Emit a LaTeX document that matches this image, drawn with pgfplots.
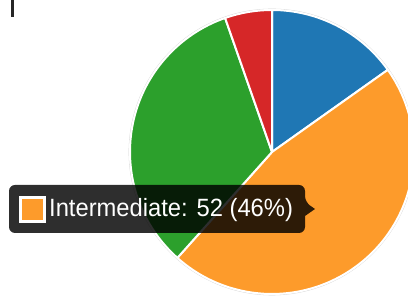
\documentclass[border=0pt]{standalone}
\usepackage{pgfplots}
\pgfplotsset{compat=1.18}
\usepackage{pgfplotstable}
\usepackage{fontspec}
\setmainfont{Liberation Sans}
\definecolor{cblue}{HTML}{1F77B4}
\definecolor{corange}{HTML}{FD9B2B}
\definecolor{cgreen}{HTML}{2CA02C}
\definecolor{cred}{HTML}{D62728}
\pgfplotstableread{
label value
Beginner 17
Intermediate 52
Advanced 37
Expert 6
}\piedata
\begin{document}%
\gdef\pietotal{0}%
\pgfplotstableforeachcolumnelement{value}\of\piedata\as\v{%
  \pgfmathsetmacro\tmp{\pietotal+\v}\xdef\pietotal{\tmp}}%
\gdef\cum{0}%
\pgfplotstableforeachcolumnelement{value}\of\piedata\as\v{%
  \pgfmathsetmacro\s{90-360*(\cum/\pietotal)}%
  \pgfmathsetmacro\tmp{\cum+\v}\xdef\cum{\tmp}%
  \pgfmathsetmacro\e{90-360*(\cum/\pietotal)}%
  \expandafter\xdef\csname pieS\pgfplotstablerow\endcsname{\s}%
  \expandafter\xdef\csname pieE\pgfplotstablerow\endcsname{\e}%
}%
\newcommand\slice[2]{%
  \fill[#2, draw=white, line width=2pt, line join=round] (axis cs:272,144) -- ++(\csname pieS#1\endcsname:142pt)
    arc[start angle=\csname pieS#1\endcsname, end angle=\csname pieE#1\endcsname, radius=142pt] -- cycle;}%
\begin{tikzpicture}
\path[use as bounding box] (0,0) rectangle (408pt,296pt);
\begin{axis}[
  at={(0,0)}, anchor=south west,
  scale only axis, width=408pt, height=296pt,
  xmin=0, xmax=408, ymin=0, ymax=296,
  hide axis, clip=true,
]
\addplot[draw=none] coordinates {(0,0) (408,296)};
\draw[gray!35, line width=0.6pt] (axis cs:272,144) circle[radius=143pt];
\slice{0}{cblue}
\slice{1}{corange}
\slice{2}{cgreen}
\slice{3}{cred}
\fill[black!85] (axis cs:11,279) rectangle (axis cs:14,296);
\fill[black, opacity=0.82, rounded corners=6pt]
  (axis cs:9,111) -- (axis cs:305,111) -- (axis cs:305,94) [sharp corners] -- (axis cs:315,87) -- (axis cs:305,80) [rounded corners=6pt] -- (axis cs:305,63) -- (axis cs:9,63) -- cycle;
\fill[corange, draw=white, line width=2.5pt] (axis cs:20.5,74.5) rectangle (axis cs:44.5,98.5);
\node[anchor=base west, text=white, inner sep=0pt, xscale=0.95, font=\fontsize{25}{25}\selectfont] at (axis cs:49,79) {Intermediate: 52 (46\%)};
\end{axis}
\end{tikzpicture}%
\end{document}
